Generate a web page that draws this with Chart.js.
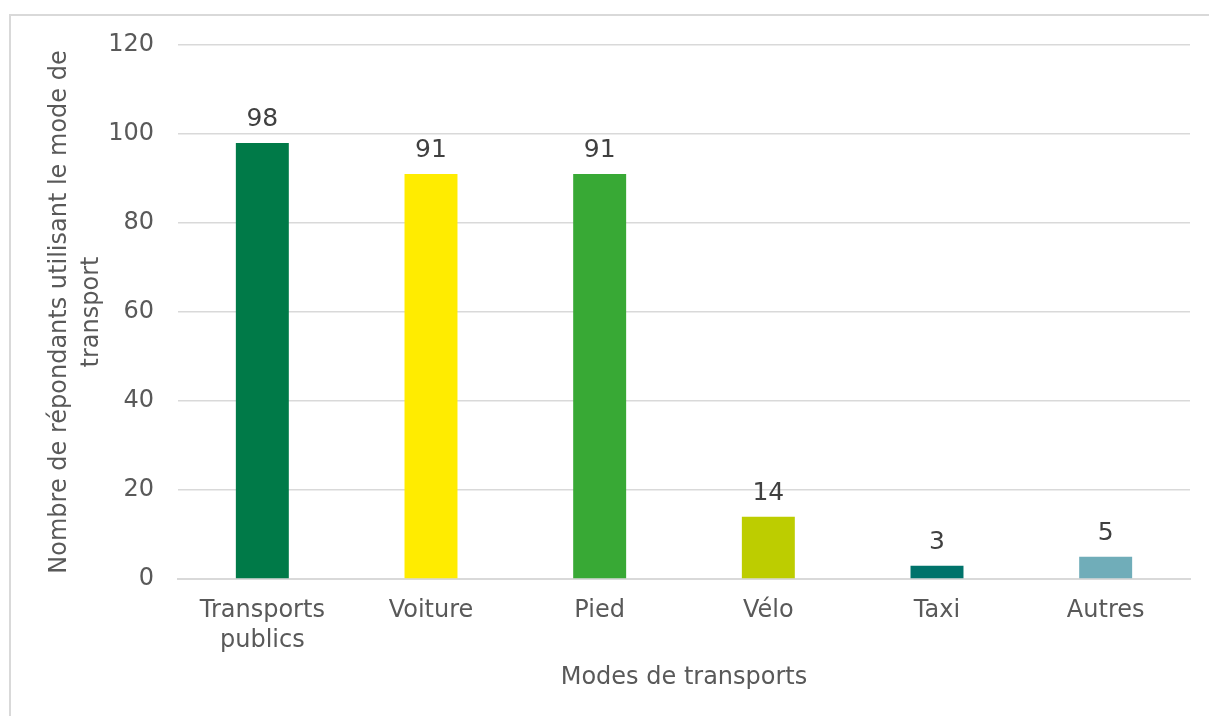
<!DOCTYPE html>
<html>
<head>
<meta charset="utf-8">
<script src="https://cdn.jsdelivr.net/npm/chart.js@4/dist/chart.umd.min.js"></script>
<style>
  html, body { margin: 0; padding: 0; background: #fff; overflow: hidden; }
  #wrap { position: relative; width: 1209px; height: 716px; }
  #frame { position: absolute; left: 9px; top: 14px; width: 1240px; height: 760px; border: 2px solid #d9d9d9; box-sizing: border-box; }
  canvas { position: absolute; left: 0; top: 0; }
</style>
</head>
<body>
<div id="wrap">
  <div id="frame"></div>
  <canvas id="c" width="1209" height="716"></canvas>
</div>
<script>
const categories = [["Transports", "publics"], "Voiture", "Pied", "Vélo", "Taxi", "Autres"];
const values = [98, 91, 91, 14, 3, 5];
const barColors = ["#007A48", "#FFEC00", "#38A935", "#BDCD00", "#00736B", "#70ADB9"];
const yTitle = ["Nombre de répondants utilisant le mode de", "transport"];
const xTitle = "Modes de transports";
const yMin = 0, yMax = 120, yStep = 20;

const FONT = "'DejaVu Sans', Verdana, sans-serif";

const valueLabels = {
  id: 'valueLabels',
  afterDatasetsDraw(chart) {
    const ctx = chart.ctx;
    const meta = chart.getDatasetMeta(0);
    ctx.save();
    ctx.font = "25px " + FONT;
    ctx.fillStyle = "#404040";
    ctx.textAlign = "center";
    ctx.textBaseline = "alphabetic";
    meta.data.forEach((bar, i) => {
      ctx.fillText(String(values[i]), bar.x, bar.y - 17);
    });
    ctx.restore();
  }
};

new Chart(document.getElementById('c'), {
  type: 'bar',
  data: {
    labels: categories,
    datasets: [{
      data: values,
      backgroundColor: barColors,
      borderWidth: 0,
      categoryPercentage: 1,
      barPercentage: 0.314
    }]
  },
  options: {
    responsive: false,
    animation: false,
    devicePixelRatio: 1,
    layout: { padding: { left: 0, right: 19, top: 45, bottom: 23 } },
    plugins: { legend: { display: false }, tooltip: { enabled: false } },
    scales: {
      x: {
        grid: { display: false, drawTicks: false },
        border: { display: true, color: "#d9d9d9", width: 2 },
        ticks: { color: "#595959", font: { family: FONT, size: 24, lineHeight: 1.25 }, padding: 17, maxRotation: 0, autoSkip: false },
        title: { display: true, text: xTitle, color: "#595959", font: { family: FONT, size: 24, lineHeight: 1.25 }, padding: { top: 0, bottom: 0 } },
        afterFit(scale) { scale.height = 114; }
      },
      y: {
        min: yMin, max: yMax,
        grid: { color: "#d9d9d9", lineWidth: 1.5, drawTicks: false },
        border: { display: false },
        ticks: { stepSize: yStep, color: "#595959", font: { family: FONT, size: 24 }, padding: 24 },
        title: { display: true, text: yTitle, color: "#595959", font: { family: FONT, size: 24, lineHeight: 1.333 }, padding: { top: 44, bottom: 0 } },
        afterFit(scale) { scale.width = 178; }
      }
    }
  },
  plugins: [valueLabels]
});
</script>
</body>
</html>
